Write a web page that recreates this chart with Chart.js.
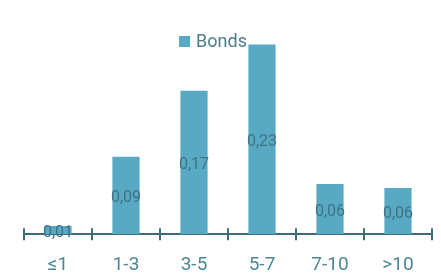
<!DOCTYPE html>
<html>
<head>
<meta charset="utf-8">
<script src="https://cdn.jsdelivr.net/npm/chart.js@4"></script>
<style>
  html, body { margin: 0; padding: 0; background: #fff; }
  #wrap { width: 441px; height: 273px; position: relative; }
</style>
</head>
<body>
<div id="wrap"><canvas id="bondsChart"></canvas></div>
<script>
// maturity buckets (years)
var categories = ["≤1", "1-3", "3-5", "5-7", "7-10", ">10"];
var seriesName = "Bonds";
var bondValues = [0.01, 0.094, 0.174, 0.23, 0.061, 0.056];

var FONT = "Roboto, 'Liberation Sans Narrow', sans-serif";
var BAR = "#58a9c4";
var AXIS = "#3e6b78";

var fmt = function(v) {
  return v.toFixed(2).replace(".", ",");
};

// values written in the middle of each bar
var barLabels = {
  id: "barLabels",
  afterDatasetsDraw: function(chart) {
    var ctx = chart.ctx;
    var meta = chart.getDatasetMeta(0);
    ctx.save();
    ctx.font = "16px " + FONT;
    ctx.fillStyle = "#3f7383";
    ctx.textAlign = "center";
    ctx.textBaseline = "middle";
    meta.data.forEach(function(bar, i) {
      ctx.fillText(fmt(bondValues[i]), bar.x, (bar.y + bar.base) / 2 + 3);
    });
    ctx.restore();
  }
};

// legend drawn over the plot, near the top, centred
var topLegend = {
  id: "topLegend",
  afterDraw: function(chart) {
    var ctx = chart.ctx;
    var ds = chart.data.datasets[0];
    var cx = (chart.chartArea.left + chart.chartArea.right) / 2;
    ctx.save();
    ctx.font = "18px " + FONT;
    var w = ctx.measureText(ds.label).width;
    var total = 11 + 6 + w;
    var x0 = cx - total / 2 - 15;
    ctx.fillStyle = ds.backgroundColor;
    ctx.fillRect(x0, 36, 11, 11);
    ctx.fillStyle = "#4c7d8c";
    ctx.textBaseline = "middle";
    ctx.fillText(ds.label, x0 + 17, 42);
    ctx.restore();
  }
};

// short ticks crossing the x axis between categories
var axisTicks = {
  id: "axisTicks",
  afterDraw: function(chart) {
    var x = chart.scales.x;
    var y0 = chart.scales.y.getPixelForValue(0);
    var step = (x.right - x.left) / categories.length;
    var ctx = chart.ctx;
    ctx.save();
    ctx.strokeStyle = AXIS;
    ctx.lineWidth = 2;
    for (var i = 0; i <= categories.length; i++) {
      var px = Math.round(x.left + i * step);
      ctx.beginPath();
      ctx.moveTo(px, y0 - 6);
      ctx.lineTo(px, y0 + 6);
      ctx.stroke();
    }
    ctx.restore();
  }
};

var chart = new Chart(document.getElementById("bondsChart").getContext("2d"), {
  type: "bar",
  data: {
    labels: categories,
    datasets: [{
      label: seriesName,
      data: bondValues,
      backgroundColor: BAR,
      borderWidth: 0,
      barPercentage: 0.4,
      categoryPercentage: 1
    }]
  },
  options: {
    responsive: true,
    maintainAspectRatio: false,
    animation: false,
    layout: { padding: { left: 24, right: 9, top: 24, bottom: -16 } },
    plugins: {
      tooltip: { enabled: false },
      legend: { display: false }
    },
    scales: {
      x: {
        offset: true,
        grid: { display: false },
        border: { display: true, color: AXIS, width: 2 },
        ticks: {
          color: "#4d8797",
          padding: 12,
          font: { family: FONT, size: 19 }
        }
      },
      y: {
        display: false,
        min: 0,
        max: 0.255
      }
    }
  },
  plugins: [barLabels, topLegend, axisTicks]
});
</script>
</body>
</html>
